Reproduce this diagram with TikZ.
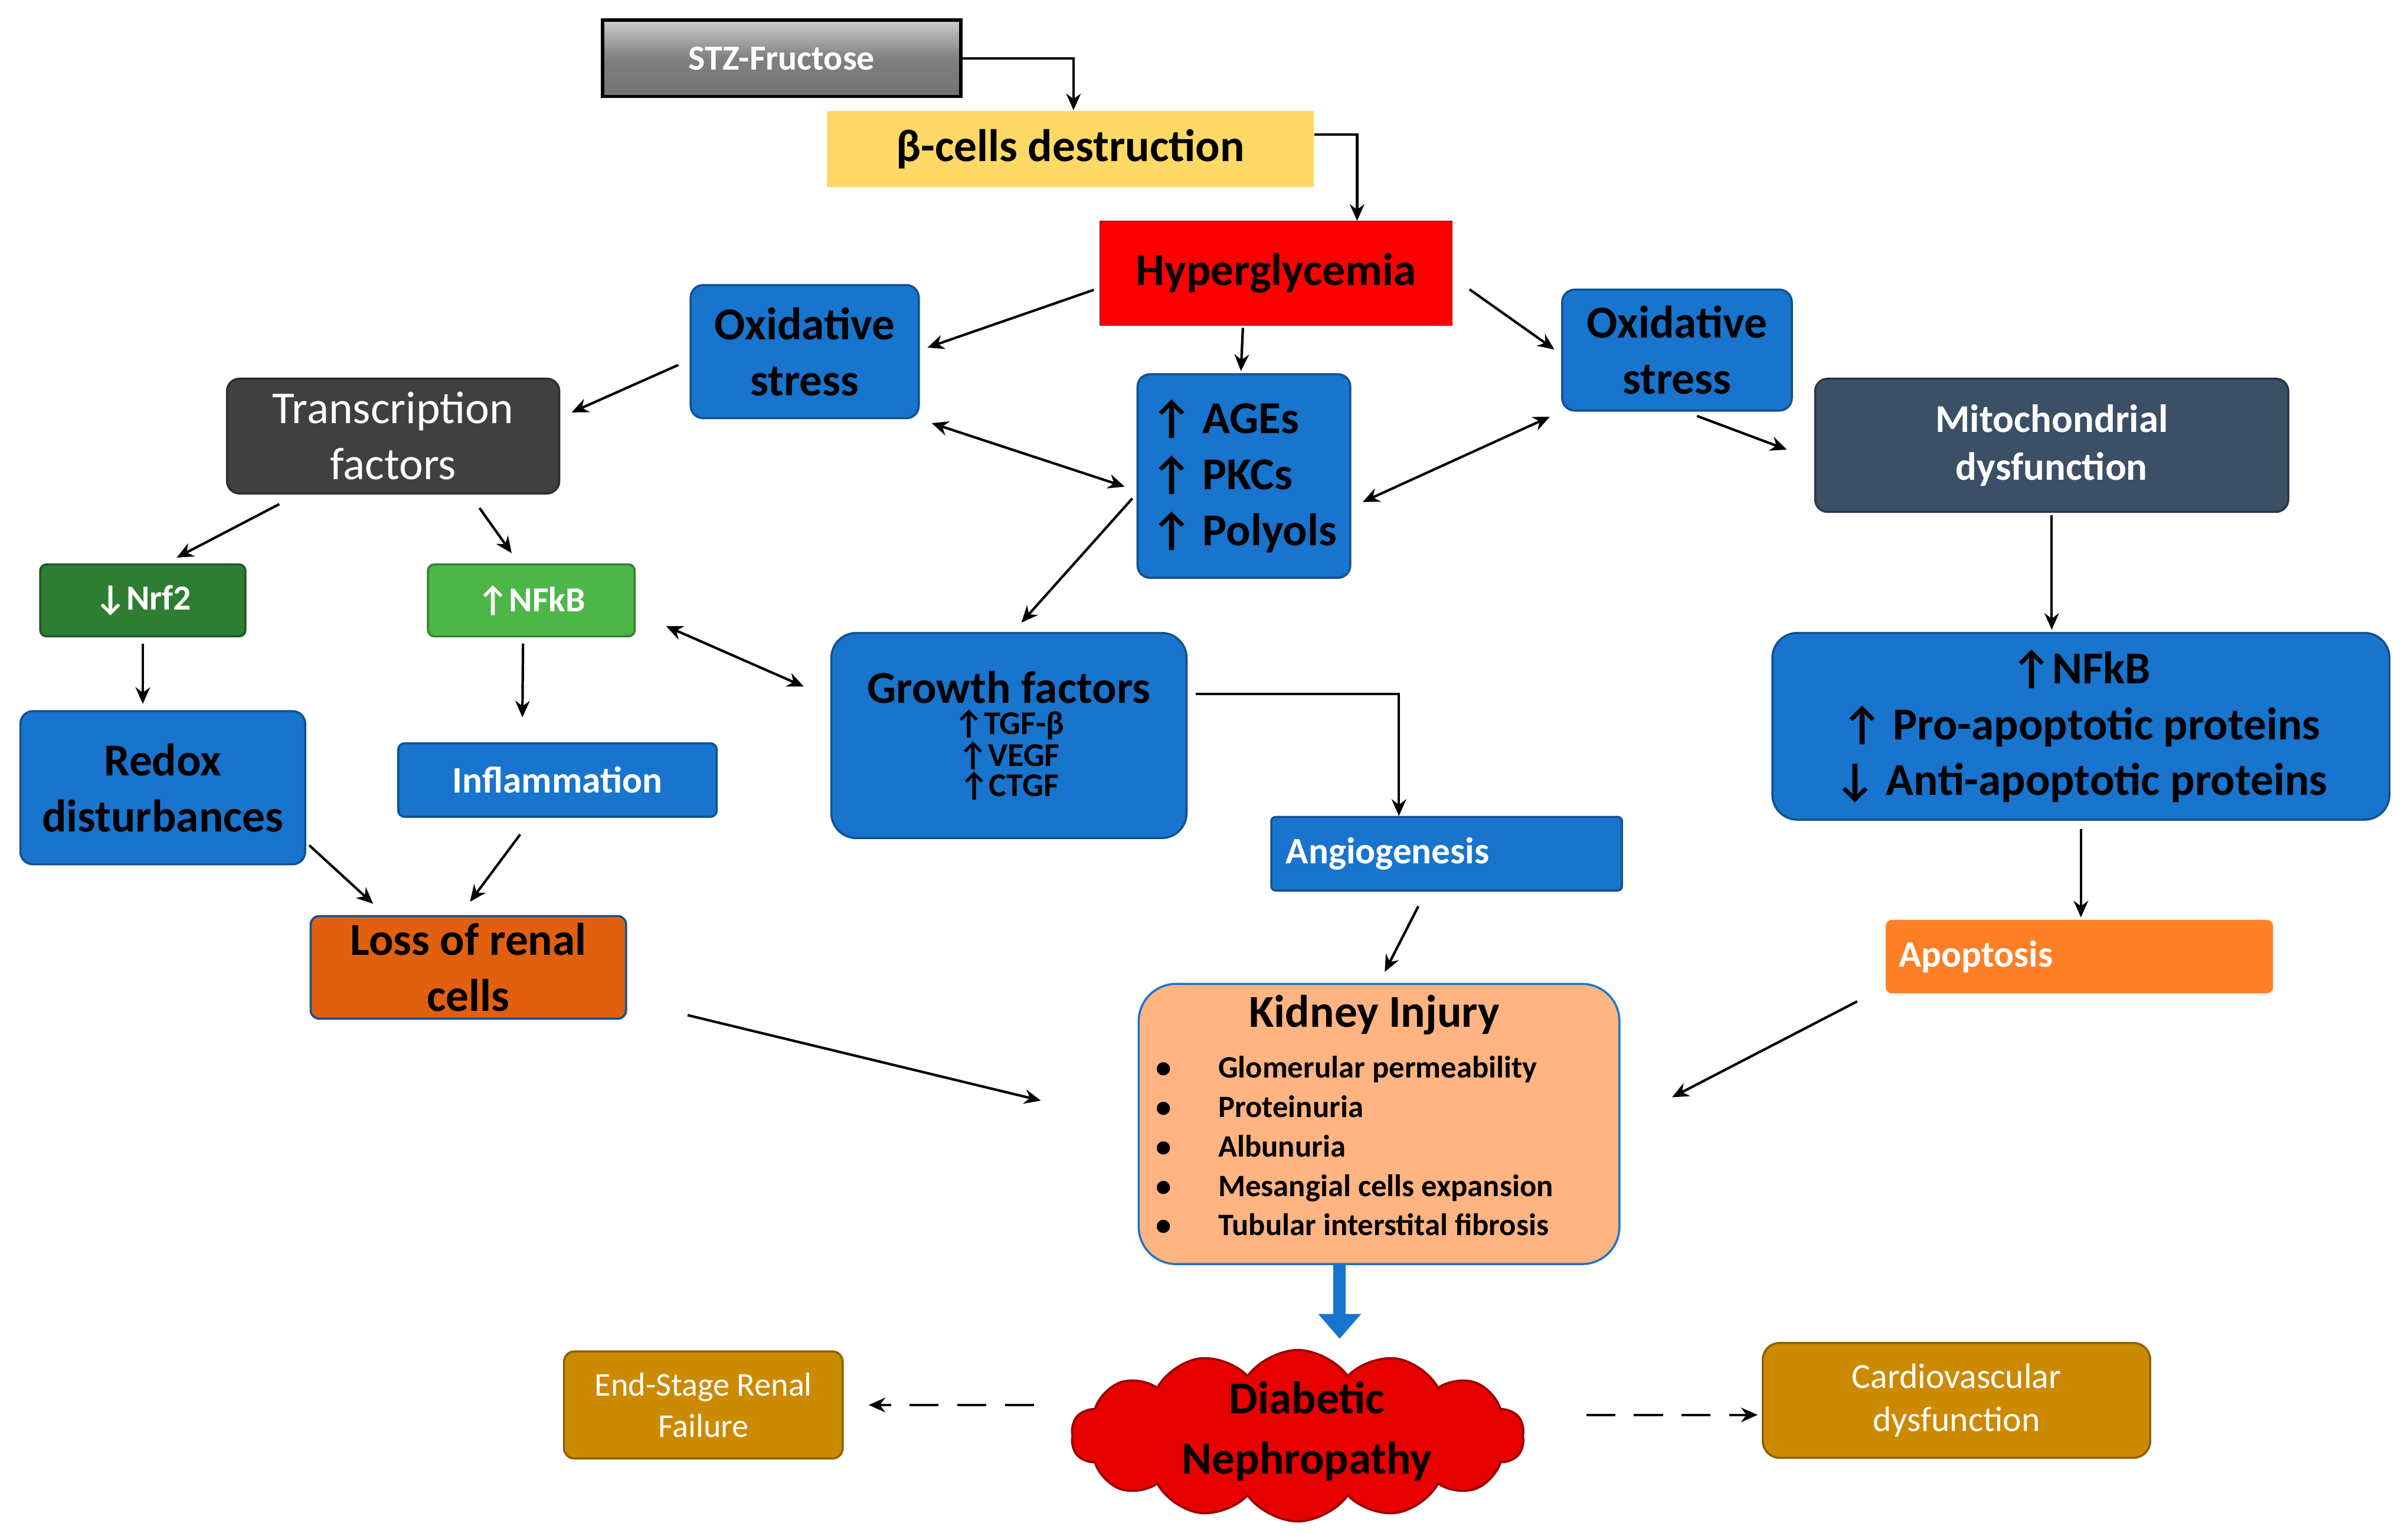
\documentclass[tikz,border=0pt]{standalone}
\usepackage{fontspec}
\setmainfont{Carlito}
\usetikzlibrary{shapes.symbols,arrows.meta}
\definecolor{bl}{HTML}{1874CD}
\definecolor{gd}{HTML}{CC8A00}
\definecolor{dk}{HTML}{404040}
\definecolor{mt}{RGB}{59,79,102}
\definecolor{ng}{RGB}{46,125,50}
\definecolor{nl}{RGB}{76,182,72}
\definecolor{lo}{RGB}{224,96,16}
\definecolor{ki}{RGB}{255,180,130}
\definecolor{ap}{RGB}{255,127,39}
\definecolor{yl}{RGB}{255,217,102}
\definecolor{cr}{RGB}{230,0,0}
\newcommand{\fs}[2]{\fontsize{#1}{#2}\selectfont}
\begin{document}
\begin{tikzpicture}[x=0.02602cm,y=-0.02602cm,
 box/.style={draw=#1!70!black,fill=#1,rounded corners=6pt,align=center,inner sep=2pt,line width=1pt},
 b/.style={font=\fs{22}{27}\bfseries},
 arr/.style={-{Stealth[length=8pt,width=7pt]},line width=1.2pt,shorten >=6pt,shorten <=6pt},
 darr/.style={{Stealth[length=8pt,width=7pt]}-{Stealth[length=8pt,width=7pt]},line width=1.2pt,shorten >=6pt,shorten <=6pt}]
\useasboundingbox (0,0) rectangle (1568,1002);
\fill[white] (0,0) rectangle (1568,1002);
\node[draw=black,line width=1.5pt,top color=gray!40,bottom color=gray!90!black,middle color=gray,minimum width=234*0.738pt,minimum height=50*0.738pt,text=white,font=\fs{17}{20}\bfseries] (stz) at (509,38) {STZ-Fructose};
\node[fill=yl,minimum width=318*0.738pt,minimum height=50*0.738pt,font=\fs{22}{27}\bfseries] (beta) at (697,97) {β-cells destruction};
\node[fill=red,draw=red!70!black,minimum width=230*0.738pt,minimum height=68*0.738pt,font=\fs{22}{27}\bfseries] (hyper) at (831,178) {Hyperglycemia};
\node[box=bl,b,minimum width=149*0.738pt,minimum height=87*0.738pt] (ox1) at (524,229) {Oxidative\\stress};
\node[box=bl,b,minimum width=150*0.738pt,minimum height=79*0.738pt] (ox2) at (1092,228) {Oxidative\\stress};
\node[box=dk,text=white,font=\fs{22}{27},minimum width=217*0.738pt,minimum height=75*0.738pt] (trans) at (256,284) {Transcription\\factors};
\node[box=bl,b,minimum width=139*0.738pt,minimum height=133*0.738pt,align=left] (ages) at (810,310) {↑ AGEs\\ ↑ PKCs\\↑ Polyols};
\node[box=mt,text=white,font=\fs{19}{23}\bfseries,minimum width=309*0.738pt,minimum height=87*0.738pt] (mito) at (1336,290) {Mitochondrial\\dysfunction};
\node[box=ng,text=white,font=\fs{17}{20}\bfseries,rounded corners=3pt,minimum width=134*0.738pt,minimum height=47*0.738pt] (nrf2) at (93,391) {↓Nrf2};
\node[box=nl,text=white,font=\fs{17}{20}\bfseries,rounded corners=3pt,minimum width=135*0.738pt,minimum height=47*0.738pt] (nfkb) at (346,391) {↑NFkB};
\node[box=bl,b,minimum width=186*0.738pt,minimum height=100*0.738pt] (redox) at (106,513) {Redox\\disturbances};
\node[box=bl,text=white,font=\fs{18}{22}\bfseries,rounded corners=3pt,minimum width=208*0.738pt,minimum height=48*0.738pt] (infl) at (363,508) {Inflammation};
\node[box=bl,minimum width=232*0.738pt,minimum height=134*0.738pt,rounded corners=12pt] (growth) at (657,479) {{\fs{22}{27}\bfseries Growth factors}\\[2pt]{\fs{16}{22}\bfseries ↑TGF-β}\\{\fs{16}{22}\bfseries ↑VEGF}\\{\fs{16}{22}\bfseries ↑CTGF}};
\node[box=bl,b,minimum width=403*0.738pt,minimum height=122*0.738pt,rounded corners=12pt] (nfkbr) at (1355,473) {↑NFkB\\↑ Pro-apoptotic proteins\\↓ Anti-apoptotic proteins};
\node[box=bl,text=white,font=\fs{18}{22}\bfseries,rounded corners=2pt,minimum width=229*0.738pt,minimum height=48*0.738pt,align=left,text width=210*0.738pt] (angio) at (942,556) {Angiogenesis};
\node[fill=ap,text=white,font=\fs{18}{22}\bfseries,rounded corners=3pt,minimum width=253*0.738pt,minimum height=48*0.738pt,align=left,text width=236*0.738pt] (apop) at (1354,623) {Apoptosis};
\node[box=lo,draw=bl!70!black,b,rounded corners=4pt,minimum width=206*0.738pt,minimum height=67*0.738pt,inner sep=0pt] (loss) at (305,630) {Loss of renal\\cells};
\node[box=ki,draw=bl,rounded corners=18pt,minimum width=314*0.738pt,minimum height=183*0.738pt] (kidney) at (898,732) {};
\node[font=\fs{22}{27}\bfseries] (kt) at (895,661) {Kidney Injury};
\node[font=\fs{15}{19}\bfseries,align=left,anchor=north west] (kl) at (748,683) {%
\makebox[30pt][l]{•}Glomerular permeability\\\makebox[30pt][l]{•}Proteinuria\\\makebox[30pt][l]{•}Albunuria\\\makebox[30pt][l]{•}Mesangial cells expansion\\\makebox[30pt][l]{•}Tubular interstital fibrosis};
\node[cloud,cloud puffs=14,cloud puff arc=110,aspect=2.6,fill=cr,draw=red!60!black,line width=1pt,minimum width=296*0.738pt,minimum height=112*0.738pt,inner sep=0pt] (dn) at (845,935) {};
\node[font=\fs{22}{29}\bfseries,align=center] (dnt) at (851,932) {Diabetic\\Nephropathy};
\node[box=gd,text=white,font=\fs{16}{20},rounded corners=5pt,minimum width=182*0.738pt,minimum height=70*0.738pt] (esrf) at (458,915) {End-Stage Renal\\Failure};
\node[box=gd,text=white,font=\fs{17}{21},rounded corners=8pt,minimum width=253*0.738pt,minimum height=75*0.738pt] (cvd) at (1274,912) {Cardiovascular\\dysfunction};
% connectors
\draw[-{Stealth[length=8pt,width=7pt]},line width=1.2pt] (stz.east) -| ([xshift=1.5pt]beta.north);
\draw[-{Stealth[length=8pt,width=7pt]},line width=1.2pt] ([yshift=7pt]beta.east) -| ([xshift=39pt]hyper.north);
\draw[arr,shorten <=3pt] ([yshift=-7pt]hyper.west) -- ([xshift=-2pt]ox1.east);
\draw[arr,shorten <=10pt,shorten >=4pt] ([yshift=-2pt]hyper.east) -- ([yshift=-2pt]ox2.west);
\draw[arr,shorten <=1pt,shorten >=1pt] ([xshift=-16pt]hyper.south) -- ([xshift=-1.5pt]ages.north);
\draw[arr] ([yshift=-4pt]ox1.west) -- ([yshift=9pt]trans.east);
\draw[darr] (ox1.south east) -- ([yshift=-7pt]ages.west);
\draw[darr] ([yshift=-15pt]ages.east) -- (ox2.south west);
\draw[arr,shorten >=14pt] ([xshift=4pt]ox2.south) -- ([yshift=-7pt]mito.west);
\draw[arr,shorten <=10pt] ([xshift=-46pt]trans.south) -- ([xshift=11pt]nrf2.north);
\draw[arr,shorten <=8pt] ([xshift=37pt]trans.south) -- ([xshift=-6pt]nfkb.north);
\draw[arr,shorten <=3pt] ([yshift=41pt]ages.south west) -- ([xshift=2pt]growth.north);
\draw[arr,shorten <=3pt,shorten >=3pt] (nrf2.south) -- (redox.north -| nrf2.south);
\draw[arr,shorten <=3pt,shorten >=12pt] ([xshift=-4pt]nfkb.south) -- ([xshift=-17pt]infl.north);
\draw[darr,shorten <=16pt,shorten >=14pt] ([yshift=-6pt]nfkb.east) -- ([yshift=18pt]growth.west);
\draw[-{Stealth[length=8pt,width=7pt]},line width=1.2pt] ([xshift=4pt,yshift=20pt]growth.east) -| ([xshift=-23pt]angio.north);
\draw[arr,shorten <=1pt,shorten >=1pt] (mito.south) -- (nfkbr.north -| mito.south);
\draw[arr,shorten <=4pt,shorten >=1pt] (nfkbr.south) -- (apop.north -| nfkbr.south);
\draw[arr,shorten <=2pt,shorten >=8pt] ([yshift=11pt]redox.south east) -- ([xshift=-40pt]loss.north);
\draw[arr,shorten <=10pt,shorten >=8pt] ([xshift=-12pt]infl.south) -- ([xshift=-4pt]loss.north);
\draw[arr,shorten <=8pt] ([xshift=-10pt]angio.south) -- (kidney.north);
\draw[arr,shorten <=30pt,shorten >=48pt] ([yshift=-16pt]loss.east) -- (kidney.west);
\draw[arr,shorten <=8pt,shorten >=28pt] ([xshift=-100pt]apop.south) -- (kidney.east);
\draw[-{Triangle[length=12pt,width=20pt]},line width=6pt,draw=bl] ([xshift=-19pt]kidney.south) -- ++(0,48);
\draw[-{Stealth[length=8pt,width=7pt]},line width=1.2pt,dash pattern=on 14pt off 9pt,shorten <=18pt,shorten >=12pt] (dn.west |- esrf.east) -- (esrf.east);
\draw[-{Stealth[length=8pt,width=7pt]},line width=1.2pt,dash pattern=on 14pt off 9pt,shorten <=30pt,shorten >=2pt] ([yshift=-7pt]dn.east |- cvd.west) -- ([yshift=-7pt]cvd.west);
\end{tikzpicture}
\end{document}
